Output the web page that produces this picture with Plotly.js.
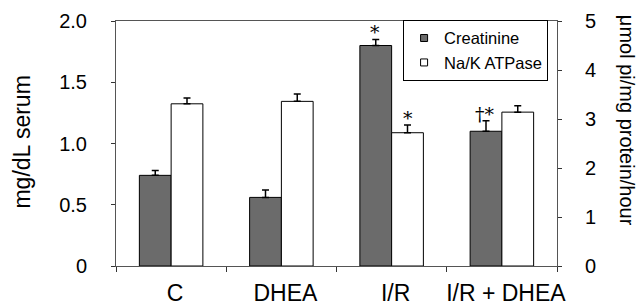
<!DOCTYPE html>
<html>
<head>
<meta charset="utf-8">
<script src="https://cdn.plot.ly/plotly-3.0.1.min.js"></script>
<style>html,body{margin:0;padding:0;background:#fff;}#chart{width:644px;height:308px;}</style>
</head>
<body>
<div id="chart"></div>
<script>
var categories = ['C', 'DHEA', 'I/R', 'I/R + DHEA'];
var creatinine = [0.74, 0.56, 1.80, 1.10];
var creatinineErr = [0.04, 0.06, 0.05, 0.085];
var nakAtpase = [3.31, 3.36, 2.72, 3.14];
var nakAtpaseErr = [0.12, 0.15, 0.16, 0.13];
var creatinineSig = ['', '', '*', '\u2020*'];
var nakAtpaseSig = ['', '', '*', ''];
var leftTickVals = [0, 0.5, 1.0, 1.5, 2.0];
var leftTickText = ['0', '0.5', '1.0', '1.5', '2.0'];
var rightTickVals = [0, 1, 2, 3, 4, 5];
var rightTickText = ['0', '1', '2', '3', '4', '5'];

var FONT = 'Liberation Sans, Arial, sans-serif';
var SIGFONT = 'DejaVu Serif, serif';
var zeros = categories.map(function(){ return 0; });
var boundaries = categories.slice(1).map(function(c, i){ return i + 0.5; });

var traces = [
  {
    type: 'bar', name: 'Creatinine', x: categories, y: creatinine,
    yaxis: 'y', offsetgroup: '1', showlegend: false,
    marker: {color: '#6b6b6b', line: {color: '#000', width: 1}},
    error_y: {type: 'data', array: creatinineErr, symmetric: false, arrayminus: zeros,
              color: '#000', thickness: 1.5, width: 3.5}
  },
  {
    type: 'bar', name: 'Na/K ATPase', x: categories, y: nakAtpase,
    yaxis: 'y2', offsetgroup: '2', showlegend: false,
    marker: {color: '#ffffff', line: {color: '#000', width: 1}},
    error_y: {type: 'data', array: nakAtpaseErr, symmetric: false, arrayminus: zeros,
              color: '#000', thickness: 1.5, width: 3.5}
  },
  {
    type: 'scatter', mode: 'markers', name: 'Creatinine', x: [null], y: [null],
    marker: {symbol: 'square', size: 7, color: '#6b6b6b', line: {color: '#000', width: 1}}
  },
  {
    type: 'scatter', mode: 'markers', name: 'Na/K ATPase', x: [null], y: [null],
    marker: {symbol: 'square', size: 7, color: '#ffffff', line: {color: '#000', width: 1}}
  }
];

var annotations = [];
categories.forEach(function(c, i){
  if (creatinineSig[i]) {
    annotations.push({x: c, y: creatinine[i] + creatinineErr[i], xref: 'x', yref: 'y',
      text: creatinineSig[i], showarrow: false, xshift: -17, yanchor: 'bottom', yshift: -6,
      font: {family: SIGFONT, size: 19, color: '#000'}});
  }
  if (nakAtpaseSig[i]) {
    annotations.push({x: c, y: nakAtpase[i] + nakAtpaseErr[i], xref: 'x', yref: 'y2',
      text: nakAtpaseSig[i], showarrow: false, xshift: 16, yanchor: 'bottom', yshift: -6,
      font: {family: SIGFONT, size: 19, color: '#000'}});
  }
});
annotations.push({text: 'mg/dL serum', xref: 'paper', yref: 'paper', x: -0.212, y: 0.506,
  textangle: -90, showarrow: false, xanchor: 'center', yanchor: 'middle',
  font: {family: FONT, size: 23, color: '#000'}});
annotations.push({text: '\u03bcmol pi/mg protein/hour', xref: 'paper', yref: 'paper', x: 1.159, y: 0.596,
  textangle: 90, showarrow: false, xanchor: 'center', yanchor: 'middle',
  font: {family: FONT, size: 20, color: '#000'}});

var layout = {
  width: 644, height: 308,
  margin: {l: 116, r: 87, t: 21, b: 42, pad: 0},
  paper_bgcolor: '#fff', plot_bgcolor: '#fff',
  font: {family: FONT, color: '#000'},
  barmode: 'group', bargap: 0.424, bargroupgap: 0,
  showlegend: true,
  legend: {x: 0.651, y: 1.005, xanchor: 'left', yanchor: 'top', bgcolor: '#fff',
           bordercolor: '#000', borderwidth: 1, font: {family: FONT, size: 16.5, color: '#000'},
           tracegroupgap: 0, itemwidth: 30},
  xaxis: {type: 'category', categoryorder: 'array', categoryarray: categories,
          showline: true, linecolor: '#555', linewidth: 1, mirror: true,
          ticks: 'outside', tickson: 'boundaries', ticklen: 5, tickcolor: '#333', tickangle: 0,
          ticklabelstandoff: 6, ticklabelshift: 4,
          showgrid: false, zeroline: false, tickfont: {family: FONT, size: 23, color: '#000'}},
  xaxis2: {overlaying: 'x', anchor: 'y', range: [-0.5, categories.length - 0.5], tickvals: boundaries,
           ticks: 'inside', ticklen: 4, tickcolor: '#333', showticklabels: false,
           showline: false, showgrid: false, zeroline: false, side: 'bottom'},
  yaxis: {range: [0, 2], tickvals: leftTickVals, ticktext: leftTickText,
          showline: true, linecolor: '#555', linewidth: 1, ticks: 'outside', ticklen: 4, tickcolor: '#333',
          showgrid: false, zeroline: false, ticklabelstandoff: 20,
          tickfont: {family: FONT, size: 20, color: '#000'}},
  yaxis2: {range: [0, 5], overlaying: 'y', side: 'right', tickvals: rightTickVals, ticktext: rightTickText,
           showline: true, linecolor: '#555', linewidth: 1, ticks: 'outside', ticklen: 4, tickcolor: '#333',
           showgrid: false, zeroline: false, ticklabelstandoff: 19,
           tickfont: {family: FONT, size: 20, color: '#000'}},
  yaxis3: {range: [0, 2], overlaying: 'y', side: 'left', anchor: 'x', tickvals: leftTickVals,
           ticks: 'inside', ticklen: 3, tickcolor: '#333', showticklabels: false,
           showline: false, showgrid: false, zeroline: false},
  yaxis4: {range: [0, 5], overlaying: 'y', side: 'right', anchor: 'x', tickvals: rightTickVals,
           ticks: 'inside', ticklen: 3, tickcolor: '#333', showticklabels: false,
           showline: false, showgrid: false, zeroline: false},
  annotations: annotations
};

Plotly.newPlot('chart', traces, layout, {displayModeBar: false, staticPlot: true});
</script>
</body>
</html>
